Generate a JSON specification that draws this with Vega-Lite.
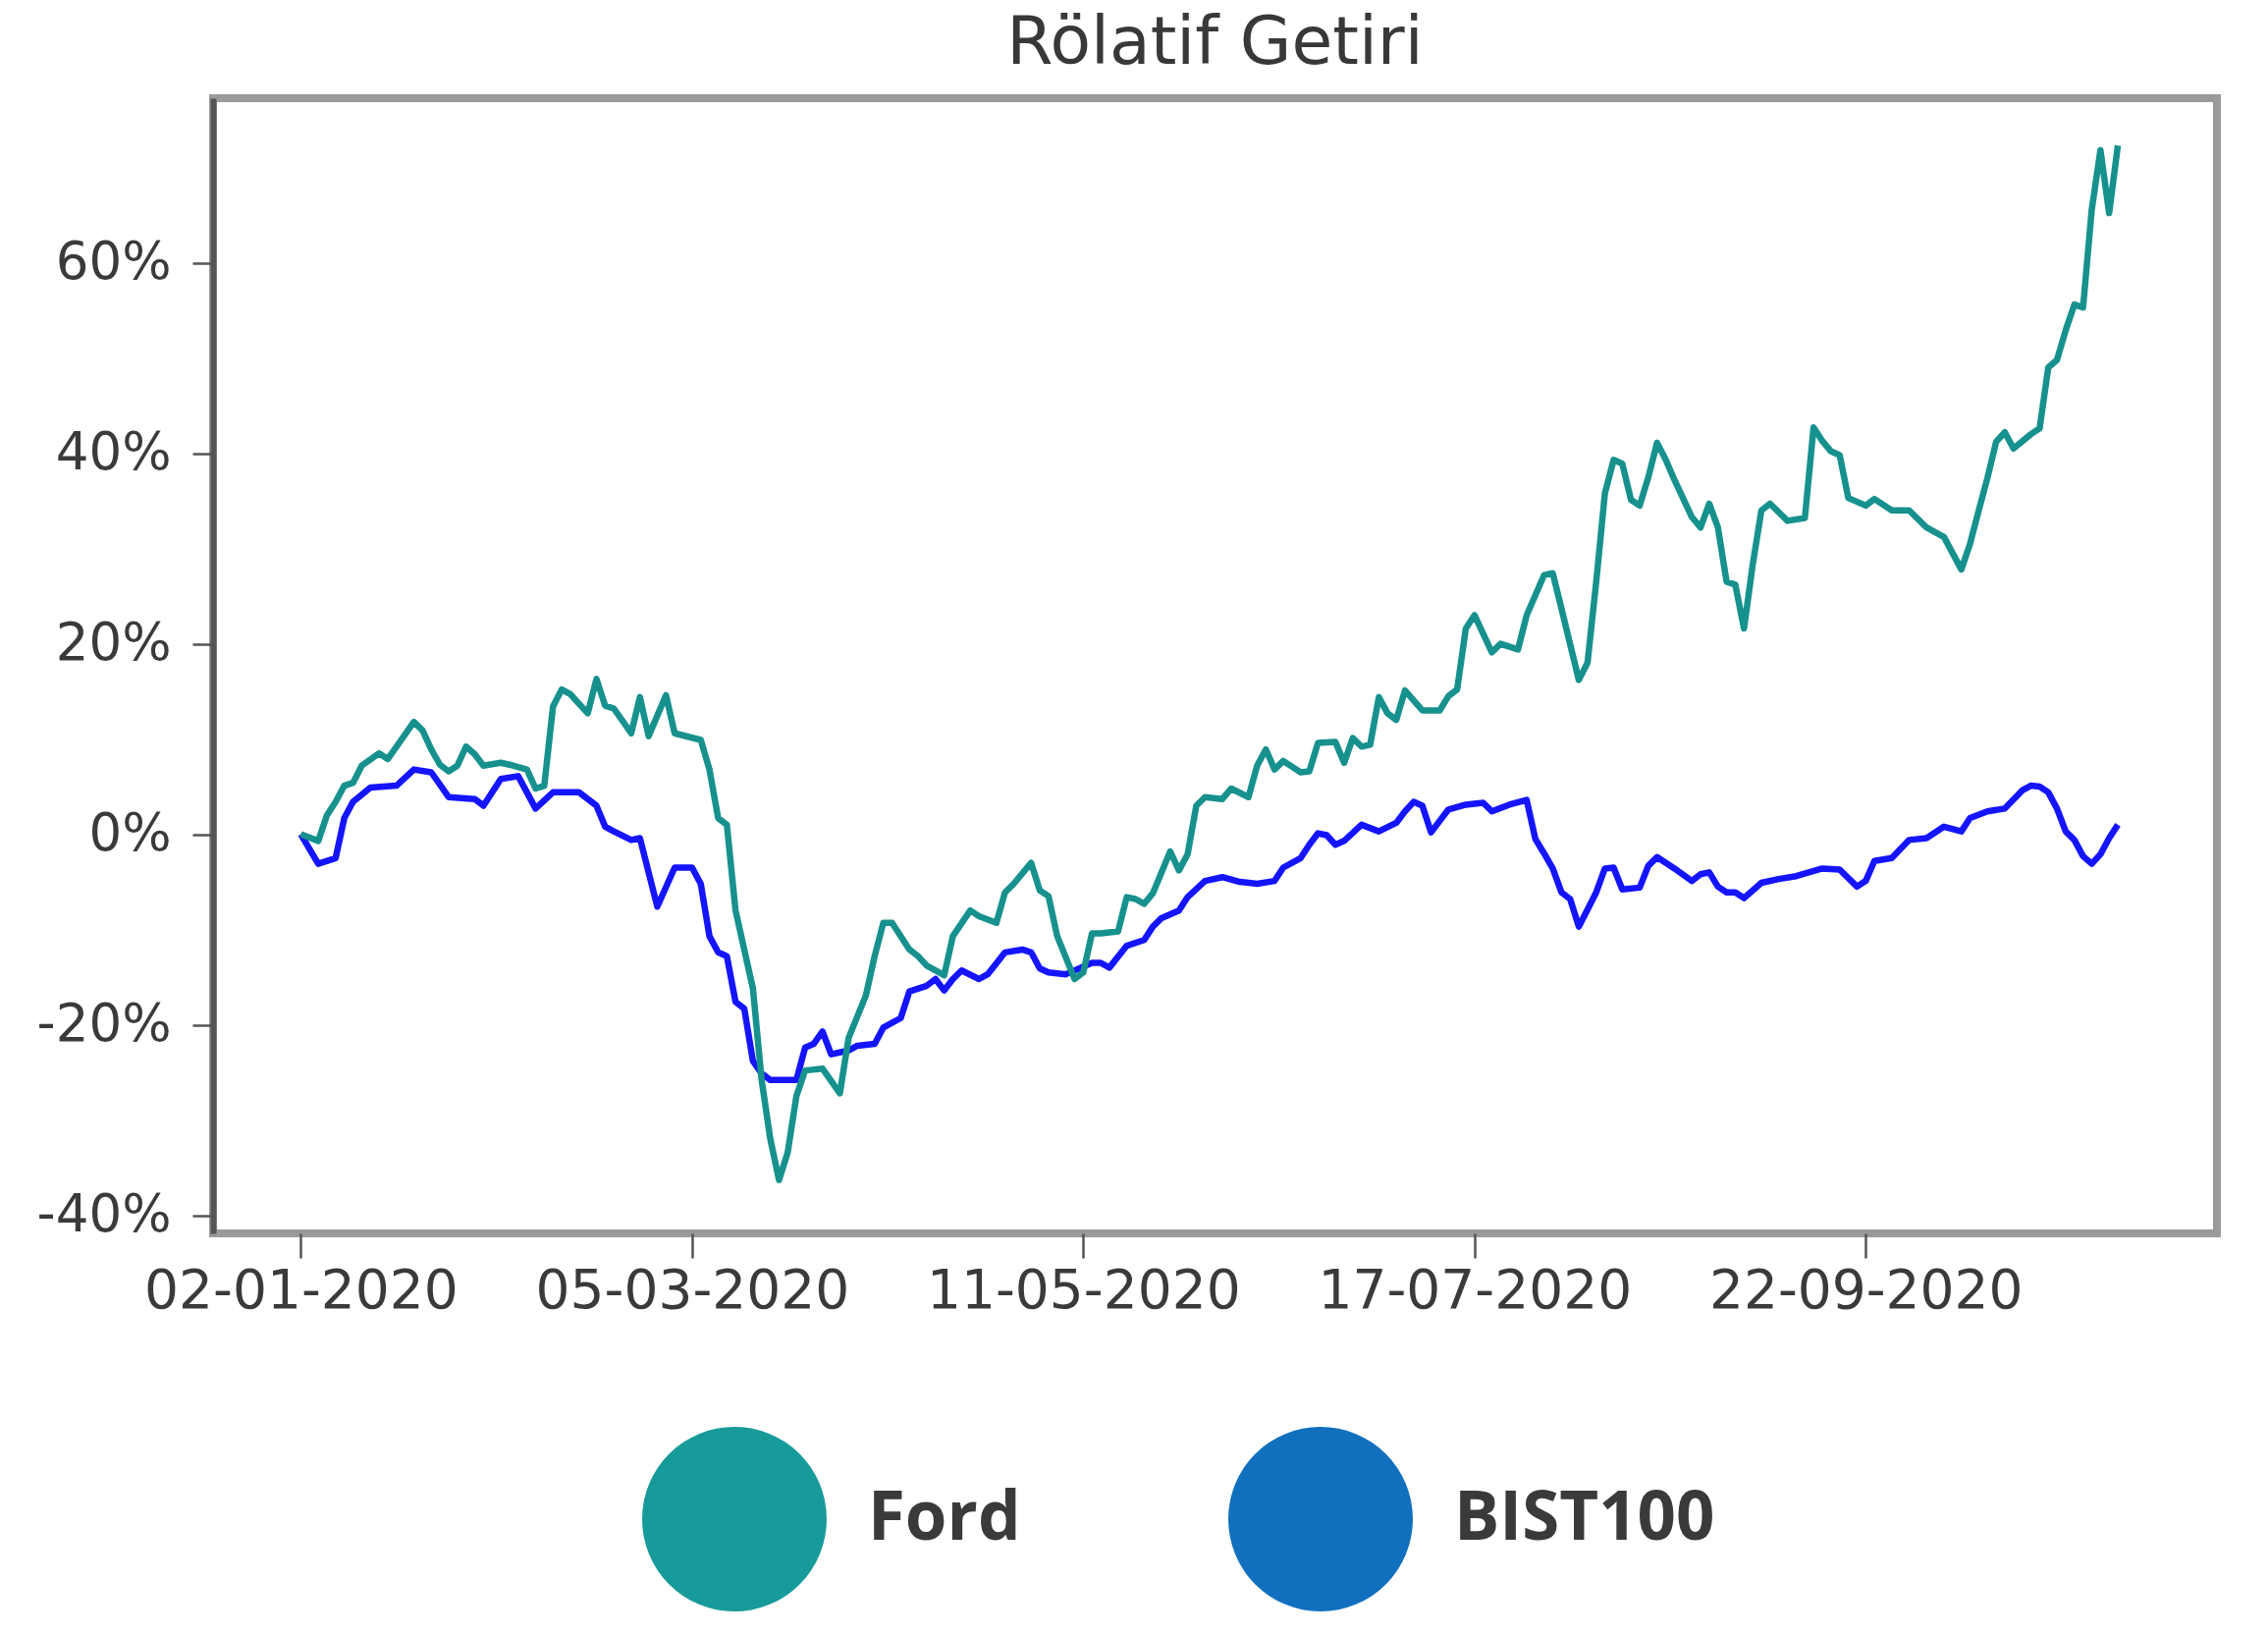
{
 "$schema": "https://vega.github.io/schema/vega-lite/v6.json",
 "width": 2041,
 "height": 1156,
 "autosize": {"type": "none"},
 "padding": {"left": 217, "top": 100, "right": 52, "bottom": 410},
 "background": "white",
 "title": {"text": "Rölatif Getiri", "font": "DejaVu Sans", "fontSize": 68, "fontWeight": "normal", "color": "#383838", "anchor": "middle", "offset": 21},
 "config": {"view": {"stroke": "#9a9a9a", "strokeWidth": 8}},
 "datasets": {
  "bist": [[0,0],[2,-3.1],[4,-2.5],[5,1.7],[6,3.4],[8,4.9],[11,5.1],[13,6.8],[15,6.5],[17,3.9],[20,3.7],[21,3.0],[23,5.8],[25,6.1],[27,2.7],[29,4.4],[32,4.4],[34,3.0],[35,0.8],[36,0.3],[38,-0.6],[39,-0.4],[41,-7.6],[43,-3.5],[45,-3.5],[46,-5.2],[47,-10.7],[48,-12.4],[49,-12.8],[50,-17.6],[51,-18.3],[52,-23.8],[53,-25.1],[54,-25.8],[57,-25.8],[58,-22.4],[59,-22.0],[60,-20.7],[61,-23.1],[63,-22.7],[64,-22.2],[66,-22.0],[67,-20.3],[69,-19.3],[70,-16.5],[72,-15.9],[73,-15.2],[74,-16.4],[75,-15.2],[76,-14.3],[78,-15.2],[79,-14.7],[81,-12.4],[83,-12.1],[84,-12.4],[85,-14.1],[86,-14.5],[88,-14.7],[91,-13.5],[92,-13.5],[93,-14.0],[95,-11.7],[97,-11.1],[98,-9.7],[99,-8.8],[101,-8.0],[102,-6.6],[104,-4.9],[106,-4.5],[108,-5.0],[110,-5.2],[112,-4.9],[113,-3.5],[115,-2.5],[116,-1.1],[117,0.1],[118,-0.1],[119,-1.1],[120,-0.7],[122,1.0],[124,0.3],[126,1.2],[127,2.4],[128,3.4],[129,3.0],[130,0.2],[132,2.6],[134,3.1],[136,3.3],[137,2.4],[139,3.1],[141,3.6],[142,-0.5],[143,-2.0],[144,-3.6],[145,-6.1],[146,-6.8],[147,-9.7],[148,-7.9],[149,-6.1],[150,-3.6],[151,-3.5],[152,-5.8],[154,-5.6],[155,-3.3],[156,-2.4],[158,-3.6],[160,-4.9],[161,-4.2],[162,-4.0],[163,-5.5],[164,-6.1],[165,-6.1],[166,-6.7],[168,-5.1],[170,-4.7],[172,-4.4],[175,-3.6],[177,-3.7],[179,-5.5],[180,-4.9],[181,-2.8],[183,-2.5],[185,-0.6],[187,-0.4],[189,0.8],[191,0.3],[192,1.7],[194,2.4],[196,2.7],[198,4.6],[199,5.1],[200,5.0],[201,4.4],[202,2.7],[203,0.3],[204,-0.6],[205,-2.3],[206,-3.1],[207,-2.1],[208,-0.4],[209,1.0]],
  "ford": [[0,0],[2,-0.7],[3,2.0],[4,3.4],[5,5.1],[6,5.4],[7,7.2],[9,8.5],[10,7.9],[11,9.2],[13,11.8],[14,10.9],[15,8.9],[16,7.3],[17,6.6],[18,7.2],[19,9.2],[20,8.4],[21,7.2],[23,7.5],[24,7.3],[26,6.8],[27,4.8],[28,5.1],[29,13.4],[30,15.2],[31,14.7],[33,12.7],[34,16.3],[35,13.5],[36,13.2],[38,10.6],[39,14.4],[40,10.3],[42,14.6],[43,10.6],[46,9.9],[47,6.8],[48,1.7],[49,1.0],[50,-8],[52,-16.2],[53,-25.8],[54,-32],[55,-36.3],[56,-33.4],[57,-27.5],[58,-24.8],[60,-24.6],[62,-27.2],[63,-21.4],[65,-16.9],[66,-12.8],[67,-9.3],[68,-9.3],[70,-12.1],[71,-12.8],[72,-13.8],[74,-14.8],[75,-10.7],[77,-8.0],[78,-8.6],[80,-9.3],[81,-6.1],[82,-5.2],[84,-3.0],[85,-5.9],[86,-6.5],[87,-10.7],[89,-15.2],[90,-14.5],[91,-10.4],[92,-10.4],[94,-10.2],[95,-6.6],[96,-6.8],[97,-7.3],[98,-6.2],[100,-1.8],[101,-3.8],[102,-2.1],[103,3.0],[104,3.9],[106,3.7],[107,4.8],[109,3.9],[110,7.2],[111,8.9],[112,6.8],[113,7.7],[115,6.5],[116,6.6],[117,9.6],[119,9.7],[120,7.5],[121,10.1],[122,9.2],[123,9.4],[124,14.4],[125,12.7],[126,12.0],[127,15.1],[129,13.0],[131,13.0],[132,14.5],[133,15.2],[134,21.6],[135,23.0],[137,19.1],[138,20.0],[140,19.4],[141,23.0],[143,27.2],[144,27.4],[145,23.7],[147,16.2],[148,18.0],[149,26.5],[150,35.8],[151,39.3],[152,38.9],[153,35.1],[154,34.5],[155,37.5],[156,41.1],[157,39.3],[158,37.2],[160,33.3],[161,32.2],[162,34.7],[163,32.2],[164,26.5],[165,26.2],[166,21.6],[167,28.3],[168,34.0],[169,34.7],[171,32.9],[173,33.2],[174,42.7],[175,41.3],[176,40.2],[177,39.8],[178,35.3],[180,34.5],[181,35.2],[183,34.0],[185,34.0],[187,32.2],[189,31.2],[190,29.5],[191,27.8],[192,30.5],[193,34.0],[194,37.4],[195,41.2],[196,42.2],[197,40.5],[199,42.0],[200,42.6],[201,49.0],[202,49.8],[203,52.9],[204,55.6],[205,55.3],[206,65.6],[207,71.8],[208,65.2],[209,72.3]]
 },
 "layer": [
  {
   "data": {"name": "bist"},
   "transform": [{"calculate": "datum[0]", "as": "i"}, {"calculate": "datum[1]", "as": "v"}, {"calculate": "'BIST100'", "as": "s"}],
   "mark": {"type": "line", "strokeWidth": 6.5, "strokeJoin": "round"},
   "encoding": {
    "x": {"field": "i", "type": "quantitative"},
    "y": {"field": "v", "type": "quantitative"},
    "color": {"field": "s", "type": "nominal"}
   }
  },
  {
   "data": {"name": "ford"},
   "transform": [{"calculate": "datum[0]", "as": "i"}, {"calculate": "datum[1]", "as": "v"}, {"calculate": "'Ford'", "as": "s"}],
   "mark": {"type": "line", "strokeWidth": 6.5, "strokeJoin": "round"},
   "encoding": {
    "x": {"field": "i", "type": "quantitative"},
    "y": {"field": "v", "type": "quantitative"},
    "color": {"field": "s", "type": "nominal"}
   }
  }
 ],
 "encoding": {
  "x": {"field": "i", "type": "quantitative",
   "scale": {"domain": [-10.1, 220.4], "nice": false, "zero": false},
   "axis": {"values": [0, 45, 90, 135, 180],
    "labelExpr": "datum.value == 0 ? '02-01-2020' : datum.value == 45 ? '05-03-2020' : datum.value == 90 ? '11-05-2020' : datum.value == 135 ? '17-07-2020' : '22-09-2020'",
    "title": null, "grid": false, "domain": false, "tickSize": 25, "tickWidth": 2.5, "tickColor": "#555555",
    "labelFont": "DejaVu Sans", "labelFontSize": 55, "labelColor": "#3a3a3a", "labelBaseline": "alphabetic", "labelPadding": 50, "labelFlush": false, "labelOverlap": false, "labelLimit": 1000}},
  "y": {"field": "v", "type": "quantitative",
   "scale": {"domain": [-41.9, 77.27], "nice": false, "zero": false},
   "axis": {"values": [-40, -20, 0, 20, 40, 60], "labelExpr": "datum.value + '%'",
    "title": null, "grid": false, "domain": true, "domainColor": "#555555", "domainWidth": 6, "tickSize": 21, "tickWidth": 2.5, "tickColor": "#555555",
    "labelFont": "DejaVu Sans", "labelFontSize": 53, "labelColor": "#3a3a3a", "labelPadding": 22, "labelLimit": 1000}},
  "color": {"field": "s", "type": "nominal",
   "scale": {"domain": ["Ford", "BIST100"], "range": ["#17918e", "#1414ff"]},
   "legend": {"orient": "none", "legendX": 437, "legendY": 1353, "direction": "horizontal", "title": null,
    "symbolType": "circle", "symbolSize": 35344, "symbolStrokeWidth": 0,
    "labelFont": "Open Sans", "labelFontSize": 69, "labelFontWeight": "bold", "labelColor": "#3a3a3a",
    "labelOffset": 42, "columnPadding": 211, "padding": 0, "labelLimit": 1000,
    "encode": {"symbols": {"update": {"fill": {"signal": "datum.value === 'Ford' ? '#179a9a' : '#1070be'"}, "stroke": {"value": "transparent"}, "opacity": {"value": 1}}}}}}
 }
}
